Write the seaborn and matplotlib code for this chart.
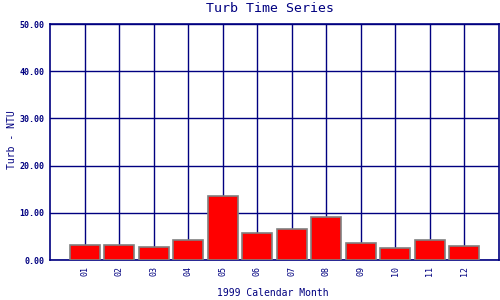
import matplotlib
matplotlib.use("Agg")
import matplotlib.pyplot as plt
import seaborn as sns
import pandas as pd

months = ["01", "02", "03", "04", "05", "06", "07", "08", "09", "10", "11", "12"]
turb = [3.1, 3.1, 2.7, 4.2, 13.5, 5.65, 6.5, 9.05, 3.5, 2.45, 4.2, 2.9]
yticks = [0, 10, 20, 30, 40, 50]

sns.set_theme(style="white")
plt.rcParams['font.family'] = ['DejaVu Sans Mono']
navy = "#000080"

df = pd.DataFrame({"month": months, "turb": turb})
fig = plt.figure(figsize=(5, 3), dpi=100)
ax = fig.add_axes([0.1, 0.1333, 0.898, 0.7867])
sns.barplot(data=df, x="month", y="turb", color="#ff0000", saturation=1,
            edgecolor="#808080", linewidth=1.2, width=0.87, ax=ax, zorder=3)
ax.set_xlim(-1, 12)
ax.set_ylim(0, 50)
ax.set_yticks(yticks)
ax.set_yticklabels([f"{v:.2f}" for v in yticks], fontsize=6, fontweight="bold", color=navy)
ax.set_xticks(range(len(months)))
ax.set_xticklabels(months, fontsize=6, rotation=90, color=navy)
ax.tick_params(length=0, pad=4)
ax.grid(True, color=navy, linewidth=1, zorder=0)
ax.set_axisbelow(True)
for s in ax.spines.values():
    s.set_color(navy)
    s.set_linewidth(1.2)
ax.set_xlabel("")
ax.set_ylabel("")
fig.text(0.545, 1 - 293 / 300, "1999 Calendar Month", ha="center", va="center", fontsize=7, color=navy)
fig.text(12 / 500, 1 - 140 / 300, "Turb - NTU", ha="center", va="center", rotation=90, fontsize=7, color=navy)
fig.text(0.54, 0.97, "Turb Time Series", ha="center", va="center", fontsize=9.5, color=navy)
fig.savefig("out.png", dpi=100, facecolor="white")
